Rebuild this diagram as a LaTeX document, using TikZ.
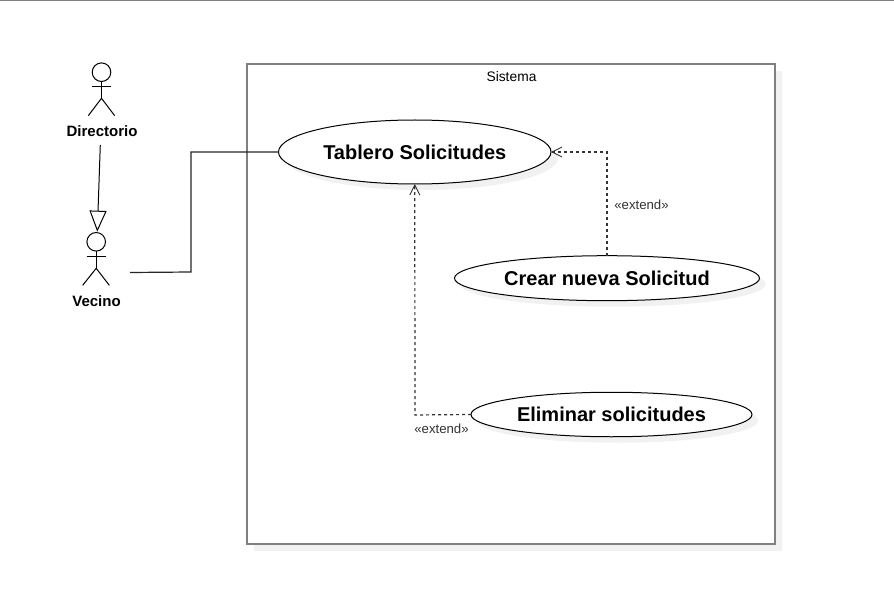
\documentclass[tikz,border=0pt]{standalone}
\usepackage{fontspec}
\setmainfont{Liberation Sans}
\usetikzlibrary{arrows.meta,shapes.geometric}
\definecolor{framegray}{HTML}{808080}
\definecolor{shadowgray}{HTML}{F1F1F1}
\definecolor{extgray}{HTML}{333333}
\tikzset{
  usecase/.style={ellipse,draw=black,fill=white,line width=1pt,inner sep=0pt,outer sep=0pt,font=\bfseries\fontsize{20}{24}\selectfont},
  caseshadow/.style={ellipse,fill=shadowgray,inner sep=0pt,outer sep=0pt},
  actorline/.style={line width=1pt,draw=black},
  actorlabel/.style={inner sep=0pt,font=\bfseries\fontsize{15}{18}\selectfont},
  extendline/.style={line width=1.2pt,draw=extgray,dash pattern=on 3pt off 3pt,-{Straight Barb[length=10pt,width=10pt,line width=0.9pt]}},
  extendlabel/.style={inner sep=0pt,text=extgray,font=\fontsize{13.2}{16}\selectfont},
}
\begin{document}
\begin{tikzpicture}[x=1pt,y=-1pt]
\useasboundingbox (0,0) rectangle (894,604);
\fill[white] (0,0) rectangle (894,604);
% top rule
\coordinate (ruleL) at (0,0.4);
\coordinate (ruleR) at (894,0.4);
\draw[framegray,line width=1.4pt] (ruleL) -- (ruleR);
% system box
\fill[shadowgray] (254,71.5) rectangle (782,551);
\node[draw=framegray,fill=white,line width=2pt,outer sep=0pt,minimum width=528pt,minimum height=479.5pt,inner sep=0pt,anchor=north west] (sistema) at (247,64.5) {};
\node[inner sep=0pt,font=\fontsize{13.8}{16}\selectfont] (sistemaT) at (511.5,76.5) {Sistema};
% actors
\node[circle,draw=black,line width=1pt,outer sep=0pt,minimum size=18.6pt,inner sep=0pt] (dirHead) at (101.5,72.2) {};
\coordinate (dirHip) at (101.5,98.3);
\draw[actorline] (dirHead.south) -- (dirHip);
\draw[actorline] (92.3,86.7) -- (110.7,86.7);
\draw[actorline] (88.3,115.7) -- (dirHip) -- (114.7,115.7);
\node[actorlabel] (dirLabel) at (102,131) {Directorio};
\node[circle,draw=black,line width=1pt,outer sep=0pt,minimum size=18.6pt,inner sep=0pt] (vecHead) at (96.2,241.8) {};
\coordinate (vecHip) at (96.2,268.3);
\draw[actorline] (vecHead.south) -- (vecHip);
\draw[actorline] (86.7,256.7) -- (105.7,256.7);
\draw[actorline] (82.7,285.3) -- (vecHip) -- (109.3,285.3);
\node[actorlabel] (vecLabel) at (96.5,301) {Vecino};
% use cases
\node[caseshadow,minimum width=272.5pt,minimum height=64pt] at (421.75,158) {};
\node[caseshadow,minimum width=305pt,minimum height=45pt] at (613,284.2) {};
\node[caseshadow,minimum width=281pt,minimum height=44.5pt] at (617.5,420.5) {};
\node[usecase,minimum width=272.5pt,minimum height=64pt] (tablero) at (414.75,152) {Tablero Solicitudes};
\node[usecase,minimum width=305pt,minimum height=45pt] (crear) at (607,278.2) {Crear nueva Solicitud};
\node[usecase,minimum width=281pt,minimum height=44.5pt] (eliminar) at (611.5,414.5) {Eliminar solicitudes};
% connectors
\coordinate (dirOut) at (100.3,145);
\coordinate (vecIn) at (97.3,231.7);
\draw[line width=1pt,draw=black,-{Triangle[open,length=21pt,width=17pt,line width=1pt]}] (dirOut) -- (vecIn);
\coordinate (vecOut) at (130,272.5);
\draw[line width=1.2pt,draw=black!85] (vecOut) -- (191,272) -- (191,152) -- (tablero.west);
\draw[extendline] (crear.north) -- (607,152) -- (tablero.east);
\draw[extendline] (eliminar.west) -- (415,415) -- (tablero.south);
\node[extendlabel] (ext1) at (641.5,205) {«extend»};
\node[extendlabel] (ext2) at (441.5,429) {«extend»};
\end{tikzpicture}
\end{document}
